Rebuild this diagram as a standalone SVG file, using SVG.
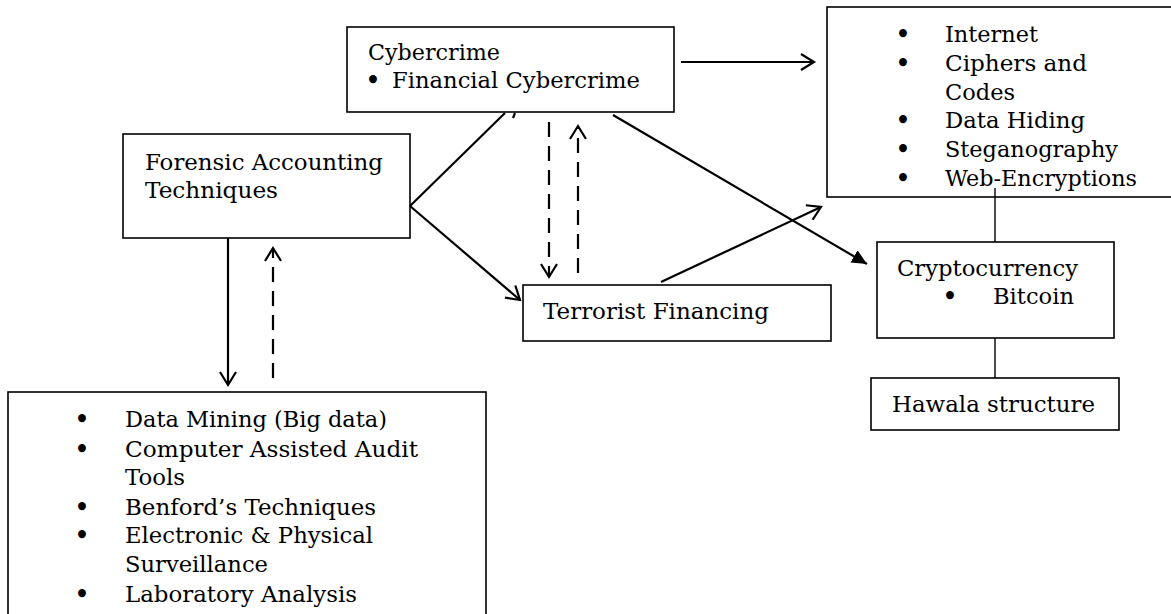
<svg xmlns="http://www.w3.org/2000/svg" width="1171" height="614" viewBox="0 0 1171 614">
<style>
.box{fill:#fff;stroke:#000;stroke-width:1.6}
.t{font-family:"DejaVu Serif","Liberation Serif",serif;font-size:22px;fill:#000}
.b{font-family:"DejaVu Serif","Liberation Serif",serif;font-size:27px;fill:#000;text-anchor:middle}
.c{stroke:#000;stroke-width:2.2;fill:none}
.d{stroke:#000;stroke-width:2.2;fill:none;stroke-dasharray:15 9}
.thin{stroke:#000;stroke-width:1.4;fill:none}
</style>
<defs>
<marker id="open" markerUnits="userSpaceOnUse" markerWidth="30" markerHeight="30" viewBox="-15 -15 30 30" refX="0" refY="0" orient="auto">
<path d="M-13,-8 L0,0 L-13,8" fill="none" stroke="#000" stroke-width="2.2"/>
</marker>
<marker id="fill" markerUnits="userSpaceOnUse" markerWidth="30" markerHeight="30" viewBox="-15 -15 30 30" refX="0" refY="0" orient="auto">
<path d="M-15,-7 L0,0 L-15,7 Z" fill="#000"/>
</marker>
</defs>

<g id="cybercrime">
<rect class="box" x="347" y="27" width="327" height="85"/>
<text class="t" x="368" y="60" textLength="132" lengthAdjust="spacingAndGlyphs">Cybercrime</text>
<text class="b" x="373" y="90">•</text>
<text class="t" x="392" y="88" textLength="248" lengthAdjust="spacingAndGlyphs">Financial Cybercrime</text>
</g>

<g id="internet">
<rect class="box" x="827" y="7" width="360" height="190"/>
<text class="b" x="903" y="44">•</text>
<text class="t" x="945" y="42" textLength="93" lengthAdjust="spacingAndGlyphs">Internet</text>
<text class="b" x="903" y="73">•</text>
<text class="t" x="945" y="71" textLength="142" lengthAdjust="spacingAndGlyphs">Ciphers and</text>
<text class="t" x="945" y="100" textLength="70" lengthAdjust="spacingAndGlyphs">Codes</text>
<text class="b" x="903" y="130">•</text>
<text class="t" x="945" y="128" textLength="140" lengthAdjust="spacingAndGlyphs">Data Hiding</text>
<text class="b" x="903" y="159">•</text>
<text class="t" x="945" y="157" textLength="173" lengthAdjust="spacingAndGlyphs">Steganography</text>
<text class="b" x="903" y="188">•</text>
<text class="t" x="945" y="186" textLength="192" lengthAdjust="spacingAndGlyphs">Web-Encryptions</text>
</g>

<g id="forensic">
<rect class="box" x="123" y="134" width="287" height="104"/>
<text class="t" x="145" y="170" textLength="238" lengthAdjust="spacingAndGlyphs">Forensic Accounting</text>
<text class="t" x="145" y="198" textLength="133" lengthAdjust="spacingAndGlyphs">Techniques</text>
</g>

<g id="terrorist">
<rect class="box" x="523" y="285" width="308" height="56"/>
<text class="t" x="543" y="319" textLength="226" lengthAdjust="spacingAndGlyphs">Terrorist Financing</text>
</g>

<g id="crypto">
<rect class="box" x="877" y="242" width="237" height="96"/>
<text class="t" x="897" y="276" textLength="181" lengthAdjust="spacingAndGlyphs">Cryptocurrency</text>
<text class="b" x="950" y="306">•</text>
<text class="t" x="993" y="304" textLength="81" lengthAdjust="spacingAndGlyphs">Bitcoin</text>
</g>

<g id="hawala">
<rect class="box" x="871" y="378" width="248" height="52"/>
<text class="t" x="892" y="412" textLength="203" lengthAdjust="spacingAndGlyphs">Hawala structure</text>
</g>

<g id="techniques">
<rect class="box" x="8" y="392" width="478" height="240"/>
<text class="b" x="82" y="429">•</text>
<text class="t" x="125" y="427" textLength="262" lengthAdjust="spacingAndGlyphs">Data Mining (Big data)</text>
<text class="b" x="82" y="459">•</text>
<text class="t" x="125" y="457" textLength="293" lengthAdjust="spacingAndGlyphs">Computer Assisted Audit</text>
<text class="t" x="125" y="485" textLength="60" lengthAdjust="spacingAndGlyphs">Tools</text>
<text class="b" x="82" y="517">•</text>
<text class="t" x="125" y="515" textLength="251" lengthAdjust="spacingAndGlyphs">Benford’s Techniques</text>
<text class="b" x="82" y="545">•</text>
<text class="t" x="125" y="543" textLength="248" lengthAdjust="spacingAndGlyphs">Electronic &amp; Physical</text>
<text class="t" x="125" y="572" textLength="143" lengthAdjust="spacingAndGlyphs">Surveillance</text>
<text class="b" x="82" y="604">•</text>
<text class="t" x="125" y="602" textLength="232" lengthAdjust="spacingAndGlyphs">Laboratory Analysis</text>
</g>

<g id="connectors">
<line class="c" x1="681" y1="62" x2="814" y2="62" marker-end="url(#open)"/>
<line class="c" x1="410" y1="206" x2="505" y2="113"/>
<line class="c" x1="515" y1="113" x2="513" y2="118"/>
<line class="c" x1="410" y1="206" x2="520" y2="300" marker-end="url(#open)"/>
<line class="d" x1="549" y1="122" x2="549" y2="277" marker-end="url(#open)"/>
<line class="d" x1="578" y1="273" x2="578" y2="126" marker-end="url(#open)"/>
<line class="c" x1="661" y1="282" x2="821" y2="207" marker-end="url(#open)"/>
<line class="c" x1="613" y1="115" x2="867" y2="264" marker-end="url(#fill)"/>
<line class="thin" x1="995" y1="188" x2="995" y2="242"/>
<line class="thin" x1="995" y1="338" x2="995" y2="378"/>
<line class="c" x1="228" y1="238" x2="228" y2="385" marker-end="url(#open)"/>
<line class="d" x1="273" y1="378" x2="273" y2="248" marker-end="url(#open)"/>
</g>
</svg>
